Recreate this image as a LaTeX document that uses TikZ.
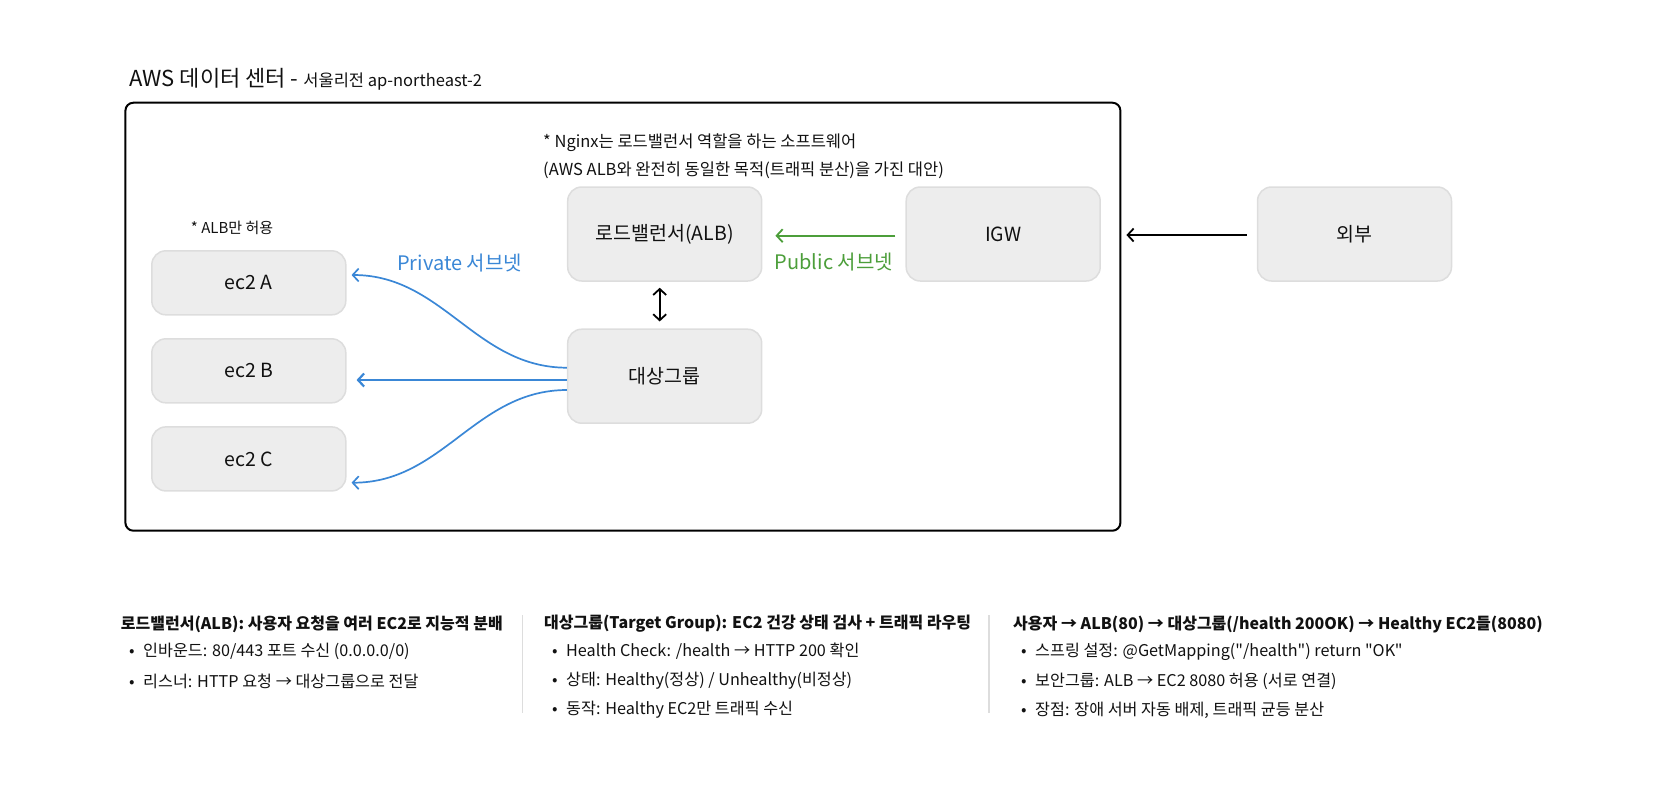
\documentclass[tikz,border=0pt]{standalone}
\usepackage{fontspec}
\newfontfamily\krfont{Noto Sans CJK KR}
\usetikzlibrary{arrows.meta,positioning}

\definecolor{boxfill}{HTML}{EDEDED}
\definecolor{boxline}{HTML}{DDDDDD}
\definecolor{privblue}{HTML}{3A87D6}
\definecolor{pubgreen}{HTML}{4C9E3A}
\definecolor{sepgray}{HTML}{DDDDDD}
\definecolor{ink}{HTML}{111111}

\newcommand{\bul}{\makebox[14pt][l]{•}}

\tikzset{
  box/.style={draw=boxline, fill=boxfill, line width=1.5pt, rounded corners=14pt,
    minimum width=194pt, minimum height=94pt, text=ink, font=\fontsize{19.5}{23}\selectfont},
  ecbox/.style={box, minimum height=64pt},
  note/.style={anchor=west, inner sep=0pt, text=ink, font=\fontsize{16.5}{20}\selectfont},
  head/.style={anchor=west, inner sep=0pt, text=ink, font=\fontsize{16}{19}\selectfont\bfseries},
  item/.style={anchor=west, inner sep=0pt, text=ink, font=\fontsize{16.2}{19}\selectfont},
  sublabel/.style={inner sep=0pt, font=\fontsize{20}{24}\selectfont},
  tip/.style={-{Straight Barb[length=6pt,width=13pt]}},
}

\begin{document}
\krfont
\begin{tikzpicture}[x=1pt, y=-1pt]
    \useasboundingbox (0,0) rectangle (1664,788);

    % title and data center frame
    \node[anchor=base west, inner sep=0pt, text=ink] (title) at (129,86.5)
        {\fontsize{22}{26}\selectfont AWS 데이터 센터 - \fontsize{16.5}{20}\selectfont 서울리전 ap-northeast-2};
    \node[draw, line width=2pt, rounded corners=8pt, minimum width=995pt, minimum height=428pt] (dc) at (622.9,316.7) {};

    % notes
    \node[note] (nginx) at (543,142.3) {* Nginx는 로드밸런서 역할을 하는 소프트웨어};
    \node[note] (nginx2) at (543,170) {(AWS ALB와 완전히 동일한 목적(트래픽 분산)을 가진 대안)};
    \node[note, font=\fontsize{15}{18}\selectfont] (albonly) at (190.7,228) {* ALB만 허용};

    % boxes
    \node[box] (alb) at (664.7,234) {로드밸런서(ALB)};
    \node[box] (igw) at (1003.2,234) {IGW};
    \node[box] (ext) at (1354.5,234) {외부};
    \node[box] (tg) at (664.7,376.2) {대상그룹};
    \node[ecbox] (ec2a) at (248.8,282.8) {ec2 A};
    \node[ecbox] (ec2b) at (248.8,370.8) {ec2 B};
    \node[ecbox] (ec2c) at (248.8,458.9) {ec2 C};

    % subnet labels
    \node[sublabel, text=privblue] (priv) at (459.7,262.7) {Private 서브넷};
    \node[sublabel, text=pubgreen] (pub) at (833.8,261.7) {Public 서브넷};

    % connectors
    \draw[tip, line width=1.8pt] ([xshift=-10pt,yshift=-1pt]ext.west) coordinate (extout) -- ([xshift=5pt]extout -| dc.east);
    \draw[tip, line width=1.8pt, pubgreen] ([xshift=-10pt,yshift=-1.7pt]igw.west) -- ([xshift=13pt,yshift=-1.7pt]alb.east);
    \draw[{Straight Barb[length=6pt,width=13pt]}-{Straight Barb[length=6pt,width=13pt]}, line width=1.8pt]
        ([xshift=-5pt,yshift=-6pt]alb.south) -- ([xshift=-5pt,yshift=7pt]tg.north);
    \draw[tip, line width=1.7pt, privblue] ([yshift=8.5pt]tg.west) to[out=180,in=0] ([xshift=5pt,yshift=7.8pt]ec2a.east);
    \draw[tip, line width=2.2pt, privblue] ([yshift=-3.8pt]tg.west) -- ([xshift=10pt,yshift=-3.8pt]tg.west -| ec2b.east);
    \draw[tip, line width=1.7pt, privblue] ([yshift=-13.8pt]tg.west) to[out=180,in=0] ([xshift=5pt,yshift=-23.8pt]ec2c.east);

    % bottom summary, column 1
    \node[head] (h1) at (120.7,624) {로드밸런서(ALB): 사용자 요청을 여러 EC2로 지능적 분배};
    \node[item] (a1) at (129,651.5) {\bul 인바운드: 80/443 포트 수신 (0.0.0.0/0)};
    \node[item] (a2) at (129,681) {\bul 리스너: HTTP 요청 → 대상그룹으로 전달};
    \draw[sepgray, line width=1.5pt] (522.7,615) coordinate (s1a) -- (522.7,713) coordinate (s1b);

    % column 2
    \node[head] (h2) at (544,624) {대상그룹(Target Group): EC2 건강 상태 검사 + 트래픽 라우팅};
    \node[item] (b1) at (552,651.5) {\bul Health Check: /health → HTTP 200 확인};
    \node[item] (b2) at (552,681) {\bul 상태: Healthy(정상) / Unhealthy(비정상)};
    \node[item] (b3) at (552,710) {\bul 동작: Healthy EC2만 트래픽 수신};
    \draw[sepgray, line width=1.5pt] (989,615) coordinate (s2a) -- (989,713) coordinate (s2b);

    % column 3
    \node[head] (h3) at (1013,624) {사용자 → ALB(80) → 대상그룹(/health 200OK) → Healthy EC2들(8080)};
    \node[item] (c1) at (1021,651.5) {\bul 스프링 설정: @GetMapping("/health") return "OK"};
    \node[item] (c2) at (1021,681) {\bul 보안그룹: ALB → EC2 8080 허용 (서로 연결)};
    \node[item] (c3) at (1021,710) {\bul 장점: 장애 서버 자동 배제, 트래픽 균등 분산};

\end{tikzpicture}
\end{document}
